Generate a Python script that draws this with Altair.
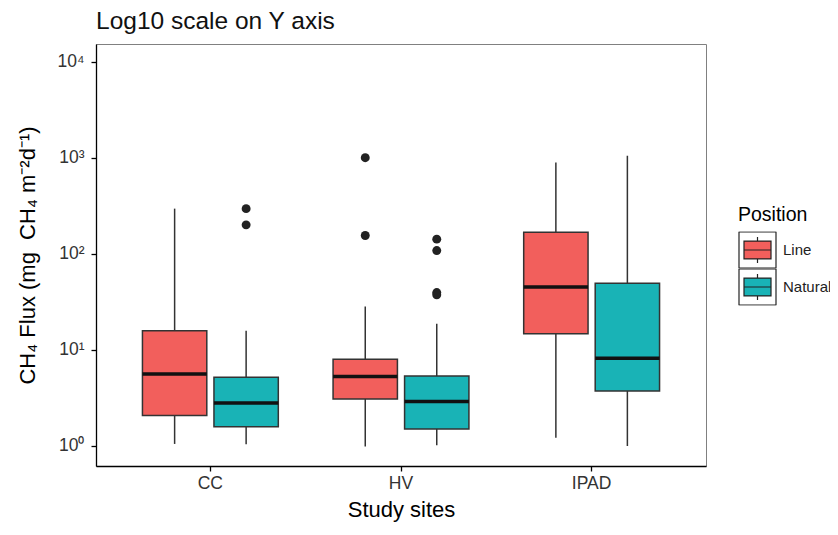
import altair as alt
import pandas as pd

# ---- data ----
sites = ["CC", "CC", "HV", "HV", "IPAD", "IPAD"]
positions = ["Line", "Natural", "Line", "Natural", "Line", "Natural"]
whisker_low = [1.05, 1.04, 0.99, 1.02, 1.22, 1.0]
q1 = [2.07, 1.59, 3.09, 1.50, 14.7, 3.74]
median = [5.6, 2.8, 5.3, 2.9, 45, 8.2]
q3 = [15.8, 5.2, 8.0, 5.35, 168, 49.5]
whisker_high = [295, 15.8, 28.3, 18.7, 893, 1050]

outlier_site = ["CC", "CC", "HV", "HV", "HV", "HV", "HV", "HV"]
outlier_pos = ["Natural", "Natural", "Line", "Line", "Natural", "Natural", "Natural", "Natural"]
outlier_value = [295, 200, 1000, 155, 142, 108, 39.5, 37.5]

site_order = ["CC", "HV", "IPAD"]
pos_order = ["Line", "Natural"]
pos_colors = ["#F25F5C", "#19B3B6"]
y_ticks = [1, 10, 100, 1000, 10000]

summary = pd.DataFrame({
    "site": sites, "pos": positions, "lo": whisker_low, "q1": q1,
    "med": median, "q3": q3, "hi": whisker_high,
})
outliers = pd.DataFrame({"site": outlier_site, "pos": outlier_pos, "value": outlier_value})

FONT = "Liberation Sans"

x_enc = alt.X("site:N", sort=site_order,
              scale=alt.Scale(paddingInner=0, paddingOuter=0.1),
              axis=alt.Axis(title="Study sites", labelAngle=0))
xoff_enc = alt.XOffset("pos:N", sort=pos_order,
                       scale=alt.Scale(paddingInner=0.1, paddingOuter=0.383))
y_scale = alt.Scale(type="log", domain=[0.619, 15240], nice=False)

base = alt.Chart(summary)

whiskers = base.mark_rule(color="#333333", strokeWidth=1.5).encode(
    x=x_enc, xOffset=xoff_enc,
    y=alt.Y("lo:Q", scale=y_scale,
            axis=alt.Axis(title="CH₄ Flux (mg\u00a0 CH₄ m⁻²d⁻¹)", values=y_ticks,
                          labelExpr="'10' + ['⁰','¹','²','³','⁴'][round(log(datum.value)/LN10)]")),
    y2="hi:Q",
)

# legend key glyph: key border, box, median and whisker stubs (unit square -1..1)
key_path = ("M-1,-0.98L1,-0.98M1,-1L1,1M1,0.98L-1,0.98M-1,1L-1,-1"
            "M-0.73,-0.48L0.73,-0.48L0.73,0.48L-0.73,0.48Z"
            "M-0.73,0L0.73,0M0,-0.48L0,-0.7M0,0.48L0,0.7")

boxes = base.mark_bar(stroke="#333333", strokeWidth=1.5).encode(
    x=x_enc, xOffset=xoff_enc,
    y=alt.Y("q1:Q", scale=y_scale),
    y2="q3:Q",
    fill=alt.Fill("pos:N", sort=pos_order,
                  scale=alt.Scale(domain=pos_order, range=pos_colors),
                  legend=alt.Legend(
                      title="Position", orient="none", legendX=642, legendY=162,
                      symbolType=key_path, clipHeight=37,
                      symbolSize=1369, symbolStrokeColor="#222222",
                      symbolStrokeWidth=1.2, symbolOpacity=1,
                      labelFontSize=15, titleFontSize=19.5, titleFontWeight="normal",
                      labelOffset=6, rowPadding=0, titlePadding=6, padding=0,
                      labelFont=FONT, titleFont=FONT, labelColor="#222222",
                      titleColor="#000000")),
)

medians = base.mark_bar(stroke="#111111", strokeWidth=3.5, fillOpacity=0).encode(
    x=x_enc, xOffset=xoff_enc,
    y=alt.Y("med:Q", scale=y_scale),
    y2="med:Q",
)

points = alt.Chart(outliers).mark_circle(size=80, color="#222222", opacity=1).encode(
    x=x_enc, xOffset=xoff_enc,
    y=alt.Y("value:Q", scale=y_scale),
)

chart = alt.layer(whiskers, boxes, medians, points).properties(
    width=610, height=422,
    title=alt.TitleParams("Log10 scale on Y axis", anchor="start", frame="group",
                          fontSize=24.5, font=FONT, fontWeight="normal",
                          color="#111111", offset=10),
    autosize=alt.AutoSizeParams(type="none"),
    padding={"left": 88, "top": 36, "right": 124, "bottom": 57},
).configure_view(
    stroke="#808080", strokeWidth=1
).configure_axis(
    grid=False, domainColor="#000000", domainWidth=1.3, tickColor="#000000",
    tickSize=5, tickWidth=1.3, labelFont=FONT, titleFont=FONT,
    labelFontSize=17.5, titleFontSize=22, labelColor="#333333",
    titleColor="#000000", titleFontWeight="normal",
).configure_axisY(
    labelPadding=7, titlePadding=18,
).configure_axisX(
    labelPadding=3, titlePadding=8,
)

chart.save("out.html", embed_options={"renderer": "svg", "actions": False})
